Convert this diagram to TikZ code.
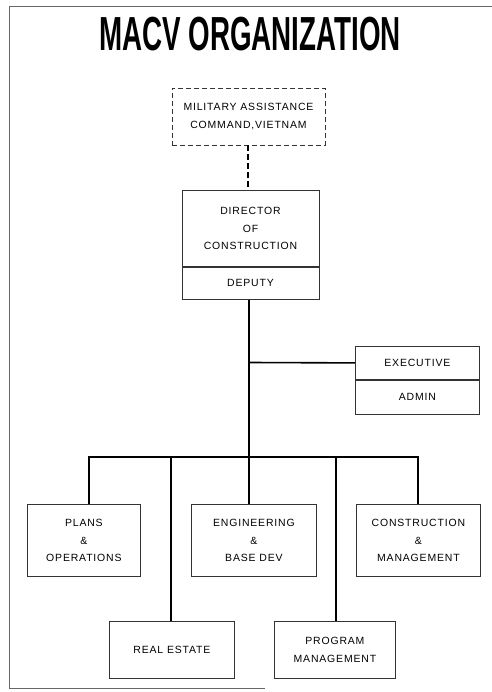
\documentclass[tikz,border=0pt]{standalone}
\usepackage{fontspec}
\setmainfont{Liberation Sans}
\newfontfamily\boxfont[LetterSpace=8]{Liberation Sans}
\begin{document}
\begin{tikzpicture}[x=1bp,y=-1bp,
  box/.style={draw=black!80,line width=0.8bp,inner sep=0pt,font=\boxfont\fontsize{10.5}{18}\selectfont,align=center},
  conn/.style={line width=1.6bp,black},
  frame/.style={draw=black!60,line width=0.8bp}]
\useasboundingbox (0,0) rectangle (492,692);
% frame
\draw[frame] (492,6) -- (9,6) -- (9,688) -- (265,688);
% title
\node (title) at (250,34) {\scalebox{0.58}[1]{\fontsize{48}{50}\selectfont\bfseries MACV ORGANIZATION}};
% MACV
\node[box,dash pattern=on 5bp off 3bp,minimum width=153bp,minimum height=57bp] (macv) at (248.5,116.5) {MILITARY ASSISTANCE\\COMMAND,VIETNAM};
% Director
\node[box,minimum width=137bp,minimum height=76bp,anchor=north] (dir) at (250.5,190) {DIRECTOR\\OF\\CONSTRUCTION};
\node[box,minimum width=137bp,minimum height=32bp,anchor=north] (dep) at (dir.south) {DEPUTY};
\draw[conn,dash pattern=on 6bp off 3bp] (macv.south -| 248,0) -- (dir.north -| 248,0);
% Executive
\node[box,minimum width=124bp,minimum height=33bp,anchor=north west] (exe) at (355,346) {EXECUTIVE};
\node[box,minimum width=124bp,minimum height=34bp,anchor=north] (adm) at (exe.south) {ADMIN};
% Bottom boxes
\node[box,minimum width=113bp,minimum height=72bp,anchor=north west] (plans) at (27,504) {PLANS\\\&\\OPERATIONS};
\node[box,minimum width=125bp,minimum height=72bp,anchor=north west] (eng) at (191,504) {ENGINEERING\\\&\\BASE DEV};
\node[box,minimum width=124bp,minimum height=72bp,anchor=north west] (con) at (356,504) {CONSTRUCTION\\\&\\MANAGEMENT};
\node[box,minimum width=125bp,minimum height=57bp,anchor=north west] (re) at (109,621) {REAL ESTATE};
\node[box,minimum width=121bp,minimum height=57bp,anchor=north west] (pm) at (274,621) {PROGRAM\\MANAGEMENT};
% connectors
\coordinate (bus) at (249,457);
\coordinate (tee) at (249,362.5);
\draw[conn] (dep.south -| bus) -- (bus);
\draw[conn] (tee) -- (exe.west);
\draw[conn] (plans.north -| 89,0) |- (bus) -| (con.north -| 418,0);
\draw[conn] (bus) -- (eng.north -| bus);
\draw[conn] (re.north -| 171,0) -- (171,457);
\draw[conn] (pm.north -| 336,0) -- (336,457);
\end{tikzpicture}
\end{document}
